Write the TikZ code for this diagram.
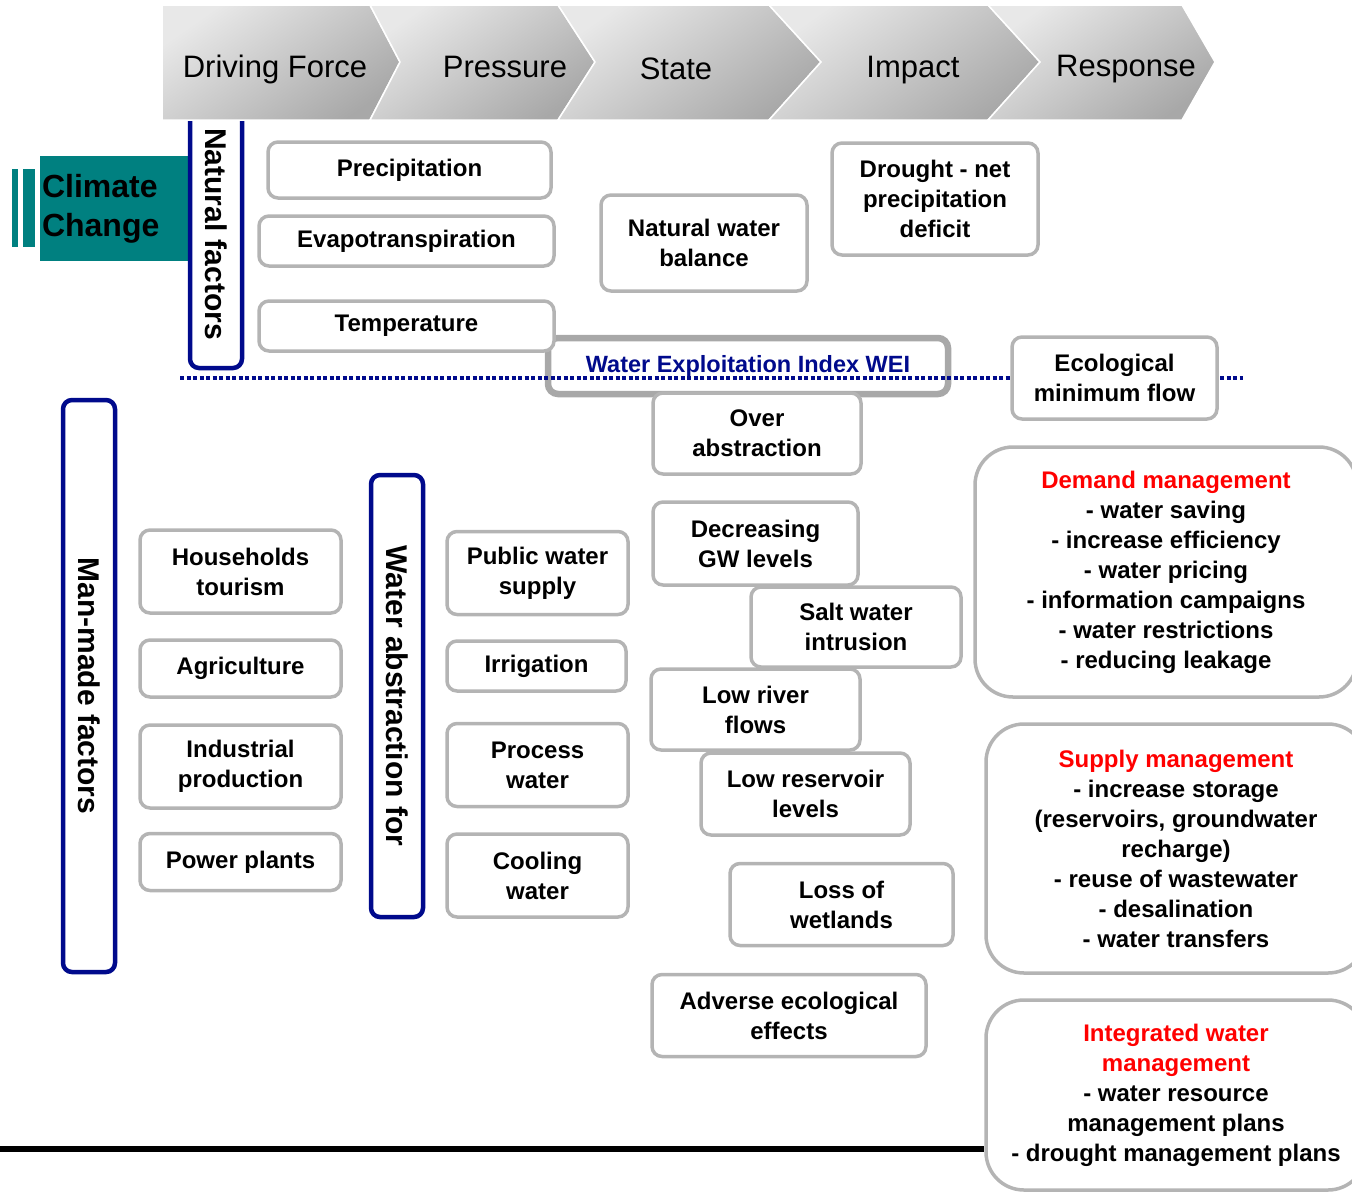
\documentclass[tikz,border=0pt]{standalone}
\usepackage{fontspec}
\setmainfont{Liberation Sans}
\usepackage{tikz}
\usetikzlibrary{positioning}

\definecolor{navy}{HTML}{000A8C}
\definecolor{boxgray}{HTML}{B4B4B4}
\definecolor{weigray}{HTML}{A8A8A8}
\definecolor{climteal}{HTML}{008080}
\definecolor{redhead}{HTML}{FF0000}

\newcommand{\boxfont}{\fontsize{24}{30}\selectfont\bfseries}
\newcommand{\barfont}{\fontsize{30}{36}\selectfont\bfseries}
\newcommand{\hdrfont}{\fontsize{31}{37}\selectfont}

\tikzset{
  gbox/.style={draw=boxgray,line width=3.5pt,rounded corners=10pt,fill=white,
    align=center,font=\boxfont,inner sep=0pt},
  rbox/.style={gbox,rounded corners=38pt},
  fbar/.style={draw=navy,line width=4.5pt,rounded corners=9pt,fill=white,
    inner sep=0pt,rotate=-90,font=\barfont},
  hdr/.style={font=\hdrfont,inner sep=0pt},
  chev/.style={draw=white,line width=1.5pt,top color=black!9,bottom color=black!34,
    shading angle=35}
}

\begin{document}
\begin{tikzpicture}[x=1pt,y=-1pt]
\useasboundingbox (0,0) rectangle (1352,1192);

%%% climate change and natural factors %%%
  \fill[climteal] (12,169) rectangle (18,247);
  \fill[climteal] (23,169) rectangle (35,247);
  \node (cc) at (115.5,208.5) [fill=climteal,minimum width=151pt,minimum height=105pt,
    text width=147pt,inner sep=2pt,align=left,
    font=\fontsize{32}{39}\selectfont\bfseries] {Climate\\Change};
  \node (nat) at (216,234) [fbar,minimum width=268pt,minimum height=52pt] {Natural factors};

%%% DPSIR band %%%
\shadedraw[chev] (162,5) -- (370,5) -- (400,62) -- (370,120) -- (162,120) -- cycle;
\shadedraw[chev] (370,5) -- (558,5) -- (595,62) -- (558,120) -- (370,120) -- (400,62) -- cycle;
\shadedraw[chev] (558,5) -- (769,5) -- (821,62) -- (769,120) -- (558,120) -- (595,62) -- cycle;
\shadedraw[chev] (769,5) -- (988,5) -- (1040,62) -- (988,120) -- (769,120) -- (821,62) -- cycle;
\shadedraw[chev] (988,5) -- (1182,5) -- (1215,62) -- (1182,120) -- (988,120) -- (1040,62) -- cycle;

  \node (drv) at (275,69) [hdr] {Driving Force};
  \node (prs) at (505,67) [hdr] {Pressure};
  \node (sta) at (676,69) [hdr] {State};
  \node (imp) at (913,70) [hdr] {Impact};
  \node (rsp) at (1126,69) [hdr] {Response};

%%% water exploitation index %%%
  \node (wei) at (748,366) [gbox,draw=weigray,line width=6.5pt,minimum width=400pt,
    minimum height=56pt,text=navy,font=\fontsize{23.5}{28}\selectfont\bfseries]
    {Water Exploitation Index WEI};
  \coordinate (weiL) at (180,378);
  \coordinate (weiR) at (1243,378);
  \draw[navy,line width=4pt,dash pattern=on 4pt off 2.5pt] (weiL) -- (weiR);

  \node (prec) at (409.5,170) [gbox,minimum width=283pt,minimum height=56pt] {Precipitation};
  \node (evap) at (406.5,241) [gbox,minimum width=295pt,minimum height=50pt] {Evapotranspiration};
  \node (temp) at (406.5,326) [gbox,minimum width=295pt,minimum height=50pt] {Temperature};
  \node (nwb) at (704,243) [gbox,minimum width=206pt,minimum height=96pt] {Natural water\\balance};
  \node (drt) at (935,199) [gbox,minimum width=206pt,minimum height=112pt]
    {Drought - net\\precipitation\\deficit};
  \node (eco) at (1114.5,378) [gbox,minimum width=205pt,minimum height=82pt]
    {Ecological\\minimum flow};

%%% man-made factors %%%
  \node (man) at (89,686) [fbar,minimum width=572pt,minimum height=52pt] {Man-made factors};
  \node (abs) at (397,696) [fbar,minimum width=442pt,minimum height=52pt] {Water abstraction for};

  \node (hh) at (240.5,571.5) [gbox,minimum width=201pt,minimum height=83pt] {Households\\tourism};
  \node (agr) at (240.5,668.5) [gbox,minimum width=201pt,minimum height=57pt] {Agriculture};
  \node (ind) at (240.5,766.5) [gbox,minimum width=201pt,minimum height=83pt] {Industrial\\production};
  \node (pow) at (240.5,862) [gbox,minimum width=201pt,minimum height=57pt] {Power plants};

  \node (pws) at (537.5,573) [gbox,minimum width=181pt,minimum height=83pt] {Public water\\supply};
  \node (irr) at (536.5,666) [gbox,minimum width=179pt,minimum height=50pt] {Irrigation};
  \node (proc) at (537.5,765) [gbox,minimum width=181pt,minimum height=83pt] {Process\\water};
  \node (cool) at (537.5,875.5) [gbox,minimum width=181pt,minimum height=83pt] {Cooling\\water};

%%% states and impacts %%%
  \node (over) at (757,433.5) [gbox,minimum width=208pt,minimum height=81pt] {Over\\abstraction};
  \node (dgw) at (755.5,543.5) [gbox,minimum width=205pt,minimum height=83pt] {Decreasing\\GW levels};
  \node (salt) at (856,627) [gbox,minimum width=210pt,minimum height=80pt] {Salt water\\intrusion};
  \node (lrf) at (755.5,709.5) [gbox,minimum width=209pt,minimum height=81pt] {Low river\\flows};
  \node (lres) at (805.5,794) [gbox,minimum width=209pt,minimum height=82pt] {Low reservoir\\levels};
  \node (wet) at (841.5,904.5) [gbox,minimum width=223pt,minimum height=82pt] {Loss of\\wetlands};
  \node (adv) at (789,1015.5) [gbox,minimum width=274pt,minimum height=82pt]
    {Adverse ecological\\effects};

%%% responses %%%
  \node (dem) at (1166,572) [rbox,minimum width=382pt,minimum height=250pt]
    {\textcolor{redhead}{Demand management}\\- water saving\\- increase efficiency\\
     - water pricing\\- information campaigns\\- water restrictions\\- reducing leakage};
  \node (sup) at (1176,848.5) [rbox,minimum width=380pt,minimum height=249pt]
    {\textcolor{redhead}{Supply management}\\- increase storage\\(reservoirs, groundwater\\
     recharge)\\- reuse of wastewater\\- desalination\\- water transfers};
  \node (iwm) at (1176,1095) [rbox,minimum width=380pt,minimum height=190pt]
    {\textcolor{redhead}{Integrated water}\\\textcolor{redhead}{management}\\
     - water resource\\management plans\\- drought management plans};

  \coordinate (baseL) at (0,1149);
  \draw[line width=6pt] (baseL) -- (baseL -| iwm.west);
%\draw (0,1192) node {};
\end{tikzpicture}
\end{document}
